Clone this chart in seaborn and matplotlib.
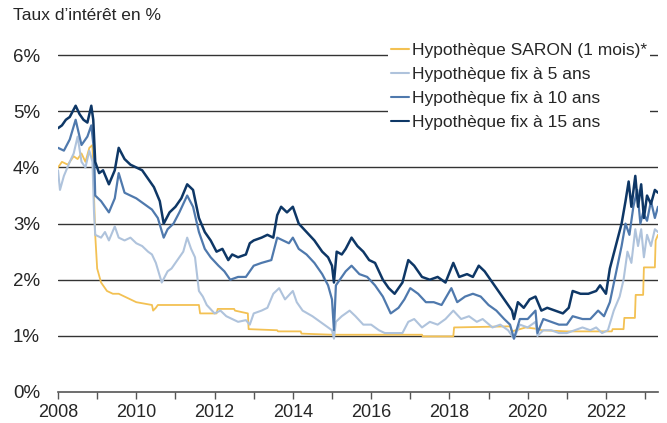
import pandas as pd
import seaborn as sns
import matplotlib.pyplot as plt
from matplotlib.ticker import FixedLocator

# values (decimal year, rate in %)
saron_x = [2008.0, 2008.1, 2008.25, 2008.4, 2008.5, 2008.6, 2008.7, 2008.8, 2008.88, 2008.92, 2008.95, 2009.0,
           2009.1, 2009.25, 2009.4, 2009.55, 2009.7, 2009.85, 2010.0, 2010.4, 2010.43, 2010.5, 2010.55,
           2011.6, 2011.63, 2012.05, 2012.08, 2012.5, 2012.52, 2012.85, 2012.87, 2013.6, 2013.62, 2014.2,
           2014.22, 2015.0, 2017.3, 2017.32, 2018.1, 2018.12, 2019.55, 2019.6, 2019.8, 2019.95, 2020.3, 2020.35,
           2021.0, 2022.15, 2022.17, 2022.45, 2022.47, 2022.74, 2022.76, 2022.95, 2022.97, 2023.25, 2023.27, 2023.33]
saron_y = [4.0, 4.1, 4.05, 4.2, 4.15, 4.25, 4.1, 4.35, 4.4, 3.5, 2.8, 2.2,
           1.95, 1.8, 1.75, 1.75, 1.7, 1.65, 1.6, 1.55, 1.45, 1.5, 1.55,
           1.55, 1.4, 1.4, 1.48, 1.48, 1.45, 1.4, 1.12, 1.1, 1.08, 1.08,
           1.04, 1.02, 1.02, 0.99, 0.99, 1.15, 1.17, 1.08, 1.12, 1.15, 1.12, 1.1,
           1.08, 1.08, 1.12, 1.12, 1.32, 1.32, 1.73, 1.73, 2.22, 2.22, 2.7, 2.8]

fix5_x = [2008.0, 2008.05, 2008.15, 2008.3, 2008.4, 2008.5, 2008.6, 2008.7, 2008.8, 2008.88, 2008.92, 2008.95,
          2009.1, 2009.2, 2009.3, 2009.45, 2009.55, 2009.7, 2009.85, 2010.0, 2010.15, 2010.3, 2010.4, 2010.5,
          2010.65, 2010.8, 2010.9, 2011.0, 2011.1, 2011.2, 2011.3, 2011.4, 2011.5, 2011.6, 2011.7, 2011.8,
          2012.0, 2012.15, 2012.3, 2012.45, 2012.6, 2012.8, 2012.9, 2013.0, 2013.2, 2013.35, 2013.5, 2013.65,
          2013.8, 2014.0, 2014.1, 2014.25, 2014.5, 2014.7, 2014.9, 2015.0, 2015.05, 2015.1, 2015.25, 2015.45,
          2015.6, 2015.8, 2016.0, 2016.2, 2016.35, 2016.8, 2016.95, 2017.1, 2017.3, 2017.5, 2017.7, 2017.9,
          2018.1, 2018.3, 2018.5, 2018.7, 2018.85, 2019.1, 2019.3, 2019.5, 2019.65, 2019.8, 2020.0, 2020.2,
          2020.25, 2020.4, 2020.6, 2020.8, 2021.0, 2021.2, 2021.4, 2021.6, 2021.75, 2021.9, 2022.05, 2022.2,
          2022.35, 2022.45, 2022.55, 2022.65, 2022.75, 2022.82, 2022.9, 2022.97, 2023.05, 2023.15, 2023.25, 2023.33]
fix5_y = [3.95, 3.6, 3.85, 4.1, 4.25, 4.55, 4.1, 4.0, 4.3, 4.1, 3.2, 2.8,
          2.75, 2.85, 2.7, 2.95, 2.75, 2.7, 2.75, 2.65, 2.6, 2.5, 2.45, 2.3,
          1.95, 2.15, 2.2, 2.3, 2.4, 2.5, 2.75, 2.55, 2.4, 1.8, 1.7, 1.55,
          1.4, 1.45, 1.35, 1.3, 1.25, 1.28, 1.2, 1.4, 1.45, 1.5, 1.75, 1.85,
          1.65, 1.8, 1.6, 1.45, 1.35, 1.25, 1.15, 1.1, 0.95, 1.25, 1.35, 1.45,
          1.35, 1.2, 1.2, 1.1, 1.05, 1.05, 1.25, 1.3, 1.15, 1.25, 1.2, 1.3,
          1.45, 1.3, 1.35, 1.25, 1.3, 1.15, 1.2, 1.1, 0.95, 1.2, 1.15, 1.25,
          1.0, 1.1, 1.1, 1.05, 1.05, 1.1, 1.15, 1.1, 1.15, 1.05, 1.1, 1.45,
          1.7, 2.0, 2.5, 2.3, 2.9, 2.6, 2.9, 2.4, 2.8, 2.6, 2.9, 2.85]

fix10_x = [2008.0, 2008.15, 2008.3, 2008.45, 2008.6, 2008.75, 2008.85, 2008.92, 2008.95, 2009.1, 2009.3, 2009.45,
           2009.55, 2009.7, 2009.85, 2010.0, 2010.2, 2010.4, 2010.55, 2010.7, 2010.8, 2010.95, 2011.1, 2011.3,
           2011.45, 2011.6, 2011.75, 2011.9, 2012.1, 2012.25, 2012.4, 2012.6, 2012.8, 2013.0, 2013.2, 2013.45,
           2013.6, 2013.75, 2013.9, 2014.0, 2014.15, 2014.35, 2014.55, 2014.75, 2014.9, 2015.0, 2015.05, 2015.1,
           2015.2, 2015.35, 2015.5, 2015.7, 2015.9, 2016.1, 2016.3, 2016.5, 2016.7, 2016.85, 2017.0, 2017.2,
           2017.4, 2017.6, 2017.8, 2018.05, 2018.2, 2018.4, 2018.6, 2018.8, 2019.0, 2019.2, 2019.4, 2019.55,
           2019.65, 2019.8, 2020.0, 2020.2, 2020.25, 2020.4, 2020.6, 2020.8, 2021.0, 2021.15, 2021.4, 2021.6,
           2021.8, 2021.95, 2022.1, 2022.25, 2022.4, 2022.5, 2022.6, 2022.7, 2022.8, 2022.88, 2022.95, 2023.05,
           2023.15, 2023.25, 2023.33]
fix10_y = [4.35, 4.3, 4.5, 4.85, 4.4, 4.55, 4.75, 4.3, 3.5, 3.4, 3.2, 3.45,
           3.9, 3.55, 3.5, 3.45, 3.35, 3.25, 3.1, 2.75, 2.9, 3.0, 3.2, 3.5,
           3.3, 2.85, 2.55, 2.4, 2.25, 2.15, 2.0, 2.05, 2.05, 2.25, 2.3, 2.35,
           2.75, 2.7, 2.65, 2.75, 2.55, 2.45, 2.3, 2.1, 1.9, 1.65, 1.1, 1.9,
           2.0, 2.15, 2.25, 2.1, 2.05, 1.9, 1.7, 1.4, 1.5, 1.65, 1.85, 1.75,
           1.6, 1.6, 1.55, 1.85, 1.6, 1.7, 1.75, 1.7, 1.55, 1.45, 1.3, 1.2,
           0.95, 1.3, 1.3, 1.45, 1.05, 1.3, 1.25, 1.2, 1.2, 1.35, 1.3, 1.3,
           1.45, 1.35, 1.6, 2.1, 2.6, 3.0, 2.8, 3.3, 3.6, 3.0, 3.2, 3.05,
           3.4, 3.1, 3.3]

fix15_x = [2008.0, 2008.1, 2008.2, 2008.3, 2008.45, 2008.55, 2008.65, 2008.75, 2008.85, 2008.9, 2008.95, 2009.05,
           2009.15, 2009.3, 2009.45, 2009.55, 2009.7, 2009.85, 2010.0, 2010.15, 2010.3, 2010.45, 2010.6, 2010.7,
           2010.85, 2011.0, 2011.15, 2011.3, 2011.45, 2011.6, 2011.75, 2011.9, 2012.05, 2012.2, 2012.35, 2012.45,
           2012.6, 2012.8, 2012.9, 2013.0, 2013.2, 2013.35, 2013.5, 2013.6, 2013.7, 2013.85, 2014.0, 2014.15,
           2014.35, 2014.55, 2014.75, 2014.9, 2015.0, 2015.05, 2015.12, 2015.25, 2015.35, 2015.5, 2015.65, 2015.8,
           2015.95, 2016.1, 2016.3, 2016.45, 2016.6, 2016.8, 2016.95, 2017.1, 2017.3, 2017.5, 2017.7, 2017.9,
           2018.1, 2018.25, 2018.45, 2018.6, 2018.75, 2018.9, 2019.05, 2019.2, 2019.35, 2019.5, 2019.6, 2019.65,
           2019.75, 2019.9, 2020.05, 2020.2, 2020.35, 2020.5, 2020.7, 2020.9, 2021.05, 2021.15, 2021.35, 2021.55,
           2021.75, 2021.85, 2022.0, 2022.1, 2022.25, 2022.4, 2022.5, 2022.58, 2022.65, 2022.75, 2022.82, 2022.9,
           2022.97, 2023.05, 2023.15, 2023.25, 2023.33]
fix15_y = [4.7, 4.75, 4.85, 4.9, 5.1, 4.95, 4.85, 4.8, 5.1, 4.85, 4.1, 3.9,
           3.95, 3.7, 3.95, 4.35, 4.15, 4.05, 4.0, 3.95, 3.8, 3.65, 3.4, 3.0,
           3.2, 3.3, 3.45, 3.7, 3.6, 3.1, 2.85, 2.7, 2.5, 2.55, 2.35, 2.45,
           2.4, 2.45, 2.65, 2.7, 2.75, 2.8, 2.75, 3.15, 3.3, 3.2, 3.3, 3.0,
           2.85, 2.7, 2.5, 2.4, 2.25, 1.95, 2.5, 2.45, 2.55, 2.75, 2.6, 2.5,
           2.35, 2.3, 2.0, 1.85, 1.75, 1.95, 2.35, 2.25, 2.05, 2.0, 2.05, 1.95,
           2.3, 2.05, 2.1, 2.05, 2.25, 2.15, 2.0, 1.85, 1.7, 1.55, 1.45, 1.3,
           1.6, 1.5, 1.65, 1.7, 1.45, 1.5, 1.45, 1.4, 1.5, 1.8, 1.75, 1.75,
           1.8, 1.9, 1.75, 2.2, 2.6, 3.0, 3.4, 3.75, 3.3, 3.85, 3.3, 3.7,
           3.1, 3.5, 3.35, 3.6, 3.55]

labels = ['Hypothèque SARON (1 mois)*', 'Hypothèque fix à 5 ans',
          'Hypothèque fix à 10 ans', 'Hypothèque fix à 15 ans']
colors = ['#F3C153', '#AFC3DC', '#4F79AD', '#0E3766']
widths = [1.3, 1.5, 1.6, 1.8]

series = [(saron_x, saron_y), (fix5_x, fix5_y), (fix10_x, fix10_y), (fix15_x, fix15_y)]

sns.set_style('white')
plt.rcParams['font.family'] = ['Liberation Sans', 'DejaVu Sans']

fig = plt.figure(figsize=(6.67, 4.23), dpi=100)
ax = fig.add_axes([0.087, 0.0733, 0.8995, 0.8227])

for y in range(1, 7):
    ax.axhline(y, color='#333333', lw=1.0, zorder=0)

for (xs, ys), lab, col, lw in zip(series, labels, colors, widths):
    df = pd.DataFrame({'annee': xs, 'taux': ys})
    sns.lineplot(data=df, x='annee', y='taux', color=col, lw=lw, label=lab, ax=ax, sort=False)

ax.set_xlim(2008, 2023.33)
ax.set_ylim(0, 6.2)
ax.set_xlabel('')
ax.set_ylabel('')

ax.set_xticks(range(2008, 2024, 2))
ax.xaxis.set_minor_locator(FixedLocator(range(2009, 2024, 2)))
ax.set_yticks(range(0, 7))
ax.set_yticklabels([f'{v}%' for v in range(0, 7)])
ax.tick_params(axis='x', which='both', direction='out', length=5, width=1, color='#555555',
               labelsize=13, pad=4, bottom=True)
ax.tick_params(axis='y', length=0, labelsize=13.5, pad=13)

for s in ['top', 'right', 'left']:
    ax.spines[s].set_visible(False)
ax.spines['bottom'].set_color('#555555')
ax.spines['bottom'].set_linewidth(1.2)

leg = ax.legend(loc='upper left', bbox_to_anchor=(388 / 667, 1 - 39 / 423), bbox_transform=fig.transFigure,
                frameon=True, fontsize=12.5, handlelength=1.0, handletextpad=0.17, labelspacing=0.52,
                borderpad=0.2, borderaxespad=0)
leg.get_frame().set_facecolor('white')
leg.get_frame().set_edgecolor('none')
leg.get_frame().set_alpha(1)
for h in leg.get_lines():
    h.set_linewidth(1.5)

fig.text(13 / 667, 1 - 16 / 423, 'Taux d\u2019intérêt en %', fontsize=12.5, va='center', ha='left')

fig.savefig('out.png', dpi=100)
